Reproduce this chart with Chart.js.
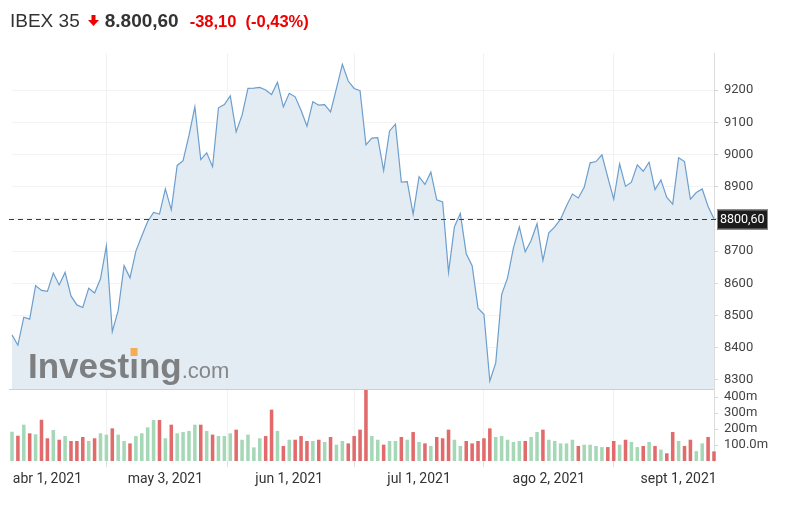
<!DOCTYPE html>
<html>
<head>
<meta charset="utf-8">
<script src="https://cdn.jsdelivr.net/npm/chart.js@4.4.0/dist/chart.umd.min.js"></script>
<style>
  html, body { margin: 0; padding: 0; background: #fff; }
  .wrap { position: relative; width: 788px; height: 511px; }
  #chart { position: absolute; left: 0; top: 0; }
  .header {
    position: absolute; left: 10px; top: 10px; line-height: 22px;
    font-family: "Liberation Sans", Arial, sans-serif; color: #333; white-space: nowrap;
  }
  .header .name { font-size: 19px; }
  .header .arrow { margin-left: 8px; vertical-align: 1px; }
  .header .last { font-size: 19px; font-weight: bold; margin-left: 6px; }
  .header .chg { font-size: 16.5px; font-weight: bold; color: #e00; margin-left: 11px; }
  .header .pct { margin-left: 9px; }
</style>
</head>
<body>
<div class="wrap">
  <canvas id="chart" width="788" height="511"></canvas>
  <div class="header">
    <span class="name">IBEX 35</span><svg class="arrow" width="11" height="11" viewBox="0 0 11 11"><rect x="3.5" y="0" width="4" height="5" fill="#e00"/><polygon points="0,5 11,5 5.5,11" fill="#e00"/></svg><span class="last">8.800,60</span><span class="chg">-38,10<span class="pct">(-0,43%)</span></span>
  </div>
</div>
<script>
// closing prices, one per trading day from 24 mar 2021
const prices = [
  8440, 8408, 8495, 8489, 8593, 8578, 8575, 8632, 8595, 8634,
  8561, 8533, 8525, 8585, 8570, 8614, 8716, 8450, 8516, 8655,
  8617, 8700, 8747, 8792, 8820, 8815, 8893, 8828, 8966, 8981,
  9059, 9148, 8984, 9005, 8962, 9145, 9155, 9182, 9070, 9122,
  9205, 9206, 9208, 9200, 9186, 9224, 9148, 9190, 9179, 9137,
  9088, 9164, 9153, 9155, 9132, 9205, 9280, 9228, 9205, 9198,
  9030, 9051, 9052, 8950, 9073, 9094, 8914, 8916, 8815, 8931,
  8907, 8945, 8859, 8853, 8634, 8776, 8817, 8692, 8655, 8523,
  8504, 8297, 8353, 8565, 8617, 8710, 8775, 8698, 8733, 8785,
  8671, 8757, 8775, 8799, 8841, 8877, 8865, 8898, 8974, 8978,
  8999, 8929, 8861, 8971, 8901, 8914, 8968, 8948, 8976, 8891,
  8921, 8867, 8846, 8990, 8978, 8861, 8882, 8893, 8838.7, 8800.6
];

// volume in millions
const volumes = [
  183, 158, 227, 173, 167, 258, 142, 194, 133, 156,
  125, 125, 150, 125, 142, 173, 165, 204, 165, 125,
  110, 156, 173, 210, 256, 256, 142, 227, 173, 181,
  188, 227, 227, 188, 165, 156, 156, 173, 196, 133,
  165, 85, 142, 156, 321, 188, 94, 133, 133, 156,
  125, 125, 133, 119, 150, 102, 125, 110, 156, 196,
  448, 156, 133, 102, 125, 125, 150, 133, 181, 119,
  110, 94, 150, 142, 196, 133, 94, 125, 110, 125,
  142, 204, 150, 156, 133, 119, 125, 125, 150, 181,
  196, 133, 125, 110, 110, 133, 94, 102, 102, 94,
  87, 87, 125, 102, 133, 119, 87, 94, 119, 94,
  71, 48, 181, 125, 94, 133, 62, 110, 150, 60
];

const holidays = ['2021-04-02', '2021-04-05'];
const tickDates = ['2021-04-01', '2021-05-03', '2021-06-01', '2021-07-01', '2021-08-02', '2021-09-01'];
const tickLabels = ['abr 1, 2021', 'may 3, 2021', 'jun 1, 2021', 'jul 1, 2021', 'ago 2, 2021', 'sept 1, 2021'];
const priceTicks = [8300, 8400, 8500, 8600, 8700, 8800, 8900, 9000, 9100, 9200];
const volTicks = [100, 200, 300, 400];
const volTickLabels = ['100.0m', '200m', '300m', '400m'];

// trading days (weekdays minus market holidays)
const dates = [];
for (let d = new Date(Date.UTC(2021, 2, 24)); dates.length < prices.length; d.setUTCDate(d.getUTCDate() + 1)) {
  const s = d.toISOString().slice(0, 10);
  const wd = d.getUTCDay();
  if (wd !== 0 && wd !== 6 && !holidays.includes(s)) dates.push(s);
}

const lastPrice = prices[prices.length - 1];
const volColors = prices.map((p, i) => (i > 0 && p < prices[i - 1]) ? '#e16a6a' : '#a6d8b8');

Chart.defaults.font.family = 'Roboto, "Liberation Sans", sans-serif';

const overlay = {
  id: 'overlay',
  afterDatasetsDraw(chart) {
    const c = chart.ctx;
    c.save();
    // watermark on top of the price fill
    c.font = 'bold 35px "Liberation Sans", Arial, sans-serif';
    c.fillStyle = 'rgba(100,100,100,0.8)';
    c.textBaseline = 'alphabetic';
    c.fillText('Investing', 28, 378);
    const wInv = c.measureText('Investing').width;
    const wPre = c.measureText('Invest').width;
    const wI = c.measureText('i').width;
    c.fillStyle = '#f2ad55';
    c.fillRect(28 + wPre + wI / 2 - 3.5, 348, 7, 8);
    c.font = '22px "Liberation Sans", Arial, sans-serif';
    c.fillStyle = 'rgba(110,110,110,0.8)';
    c.fillText('.com', 28 + wInv, 378);
    c.restore();
  },
  afterDraw(chart) {
    const c = chart.ctx;
    const area = chart.chartArea;
    const y = chart.scales.y;
    c.save();
    // separator between price and volume panes
    c.strokeStyle = '#cfcfcf';
    c.lineWidth = 1;
    c.beginPath();
    c.moveTo(area.left - 3, Math.round(y.bottom) + 0.5);
    c.lineTo(area.right, Math.round(y.bottom) + 0.5);
    c.stroke();
    // last price dashed line
    const py = Math.round(y.getPixelForValue(lastPrice)) + 0.5;
    c.strokeStyle = '#3a3a3a';
    c.setLineDash([5, 4]);
    c.beginPath();
    c.moveTo(area.left - 3, py);
    c.lineTo(area.right + 3, py);
    c.stroke();
    c.setLineDash([]);
    // last price label
    c.fillStyle = '#1c1c1c';
    c.fillRect(area.right + 3, py - 10, 51, 20);
    c.strokeStyle = '#888';
    c.strokeRect(area.right + 3.5, py - 9.5, 50, 19);
    c.fillStyle = '#fff';
    c.font = '12.5px Roboto, sans-serif';
    c.textBaseline = 'middle';
    c.fillText(lastPrice.toFixed(2).replace('.', ','), area.right + 6, py + 0.5);
    c.restore();
  }
};

const ctx = document.getElementById('chart').getContext('2d');
new Chart(ctx, {
  data: {
    labels: dates,
    datasets: [
      {
        type: 'line',
        data: prices,
        yAxisID: 'y',
        borderColor: '#6c9fcd',
        borderWidth: 1.2,
        backgroundColor: '#e3ebf3',
        fill: 'start',
        pointRadius: 0,
        tension: 0,
        order: 1
      },
      {
        type: 'bar',
        data: volumes,
        yAxisID: 'yVol',
        backgroundColor: volColors,
        barPercentage: 0.6,
        categoryPercentage: 1,
        clip: false,
        order: 2
      }
    ]
  },
  options: {
    responsive: false,
    animation: false,
    layout: { padding: { top: 53, left: 12, right: 0, bottom: 0 } },
    plugins: {
      legend: { display: false },
      tooltip: { enabled: false }
    },
    scales: {
      x: {
        type: 'category',
        offset: false,
        border: { display: false },
        grid: { color: '#f1f1f1', tickColor: '#dedede', tickLength: 6 },
        ticks: {
          autoSkip: false, maxRotation: 0, padding: 4,
          color: '#333', font: { size: 14 },
          callback: (value, i) => tickLabels[i]
        },
        afterBuildTicks: (scale) => {
          scale.ticks = tickDates.map(d => ({ value: dates.indexOf(d) }));
        },
        afterFit: (scale) => { scale.height = 50; }
      },
      y: {
        position: 'right',
        stack: 'right',
        stackWeight: 336,
        min: 8272,
        max: 9315,
        border: { color: '#dcdcdc' },
        grid: { color: '#f3f3f3', tickColor: '#d5d5d5', tickLength: 4 },
        ticks: { autoSkip: false, color: '#444', font: { size: 13 }, padding: 6, callback: (v) => String(v) },
        afterBuildTicks: (scale) => { scale.ticks = priceTicks.map(v => ({ value: v })); },
        afterFit: (scale) => { scale.width = 74; }
      },
      yVol: {
        position: 'right',
        stack: 'right',
        stackWeight: 72,
        min: 0,
        max: 450,
        border: { color: '#dcdcdc' },
        grid: { drawOnChartArea: false, tickColor: '#d5d5d5', tickLength: 4 },
        ticks: {
          autoSkip: false, color: '#444', font: { size: 13 }, padding: 6,
          callback: (v) => volTickLabels[volTicks.indexOf(v)]
        },
        afterBuildTicks: (scale) => { scale.ticks = volTicks.map(v => ({ value: v })); },
        afterFit: (scale) => { scale.width = 74; }
      }
    }
  },
  plugins: [overlay]
});
</script>
</body>
</html>
